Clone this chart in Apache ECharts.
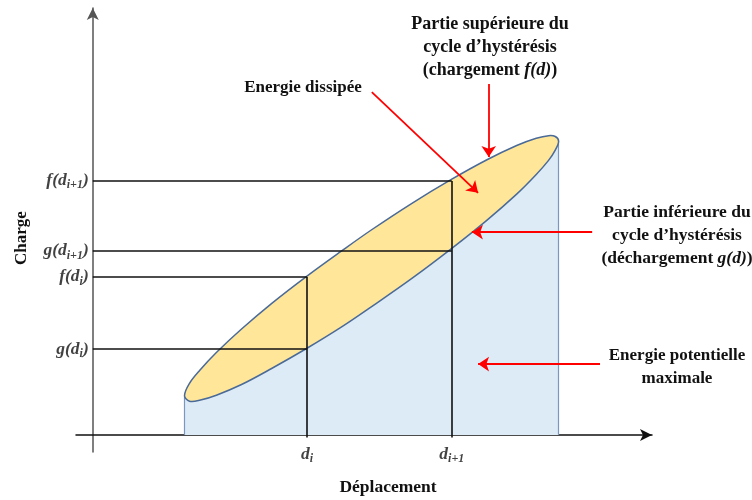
<!DOCTYPE html>
<html>
<head>
<meta charset="utf-8">
<script src="https://cdn.jsdelivr.net/npm/echarts@6/dist/echarts.min.js"></script>
<style>html,body{margin:0;padding:0;background:#fff}#c{width:752px;height:500px}</style>
</head>
<body>
<div id="c"></div>
<script>
// ---- data (displacement / charge units) ----
const curveX = [1.64, 1.73, 1.91, 2.21, 2.66, 3.19, 3.83, 4.45, 4.98, 5.70, 6.42, 7.04, 7.58, 7.93, 8.15, 8.27, 8.33];
const upperF = [0.92, 1.21, 1.51, 1.93, 2.48, 3.07, 3.72, 4.31, 4.80, 5.42, 5.99, 6.44, 6.78, 6.95, 7.01, 6.99, 6.88];
const lowerG = [0.92, 0.79, 0.81, 0.93, 1.18, 1.55, 2.03, 2.53, 3.00, 3.66, 4.37, 5.02, 5.64, 6.10, 6.43, 6.67, 6.88];
const dValues = [3.83, 6.42];
const fValues = [3.70, 5.95];
const gValues = [2.01, 4.31];
const dLabels = ['{b|d}{s|i}', '{b|d}{s|i+1}'];
const fLabels = ['{b|f(d}{s|i}{b|)}', '{b|f(d}{s|i+1}{b|)}'];
const gLabels = ['{b|g(d}{s|i}{b|)}', '{b|g(d}{s|i+1}{b|)}'];
const arrowFrom = [[4.99, 8.03], [7.08, 8.22], [8.93, 4.75], [9.07, 1.66]];
const arrowTo   = [[6.89, 5.67], [7.08, 6.51], [6.78, 4.75], [6.89, 1.66]];

const SERIF = '"Liberation Serif", "DejaVu Serif", serif';
const richTick = {
  b: {fontFamily: SERIF, fontWeight: 'bold', fontStyle: 'italic', fontSize: 17.5, color: '#111'},
  s: {fontFamily: SERIF, fontWeight: 'bold', fontStyle: 'italic', fontSize: 12, color: '#111', padding: [9, 0, 0, 0]}
};

// build shapes from arrays
const ellipsePts = [];
for (let i = 0; i < curveX.length; i++) ellipsePts.push([curveX[i], upperF[i]]);
for (let i = curveX.length - 2; i >= 1; i--) ellipsePts.push([curveX[i], lowerG[i]]);
const bluePts = [[curveX[0], 0]];
for (let i = 0; i < curveX.length; i++) bluePts.push([curveX[i], lowerG[i]]);
bluePts.push([curveX[curveX.length - 1], 0]);

const refLines = [];
for (let k = 0; k < dValues.length; k++) {
  refLines.push({coords: [[0, fValues[k]], [dValues[k], fValues[k]]]});
  refLines.push({coords: [[0, gValues[k]], [dValues[k], gValues[k]]]});
  refLines.push({coords: [[dValues[k], -0.06], [dValues[k], fValues[k]]]});
}
const blueEdges = [
  {coords: [bluePts[0], bluePts[1]]},
  {coords: [bluePts[bluePts.length - 1], bluePts[bluePts.length - 2]]}
];
const arrows = arrowFrom.map((p, i) => ({coords: [p, arrowTo[i]]}));

const yTickData = [];
for (let k = 0; k < dValues.length; k++) {
  yTickData.push({value: [0, fValues[k]], label: {formatter: fLabels[k]}});
  yTickData.push({value: [0, gValues[k]], label: {formatter: gLabels[k]}});
}
const xTickData = dValues.map((d, k) => ({value: [d, 0], label: {formatter: dLabels[k]}}));

function polyItem(pts, fill, stroke, lw, smooth) {
  return function (params, api) {
    return {
      type: 'polygon',
      shape: {points: pts.map(p => api.coord(p)), smooth: smooth},
      style: {fill: fill, stroke: stroke, lineWidth: lw}
    };
  };
}

function txt(text, x, y, size, vAlign, rich) {
  const st = {text: text, x: x, y: y, align: 'center', textAlign: 'center',
    verticalAlign: vAlign, textVerticalAlign: vAlign,
    fontFamily: SERIF, fontWeight: 'bold', fontSize: size, lineHeight: 23, fill: '#111'};
  if (rich) st.rich = {i: {fontFamily: SERIF, fontWeight: 'bold', fontStyle: 'italic', fontSize: size, lineHeight: 23, color: '#111'}};
  return {type: 'text', z: 10, style: st};
}

const chart = echarts.init(document.getElementById('c'), null, {renderer: 'canvas'});
chart.setOption({
  animation: false,
  grid: {left: 76, right: 100, top: 8, bottom: 48},
  xAxis: {
    type: 'value', min: -0.3, max: 10,
    axisLine: {onZero: true, lineStyle: {color: '#111', width: 1.5}, symbol: ['none', 'arrow'], symbolSize: [9, 12]},
    axisTick: {show: false}, axisLabel: {show: false}, splitLine: {show: false}
  },
  yAxis: {
    type: 'value', min: -0.4, max: 10,
    axisLine: {onZero: true, lineStyle: {color: '#555', width: 1.5}, symbol: ['none', 'arrow'], symbolSize: [9, 12]},
    axisTick: {show: false}, axisLabel: {show: false}, splitLine: {show: false}
  },
  series: [
    {type: 'custom', name: 'Energie potentielle maximale', data: [[0, 0]], z: 2, silent: true,
     renderItem: polyItem(bluePts, '#DDEBF7', 'rgba(0,0,0,0)', 0, 0)},
    {type: 'lines', coordinateSystem: 'cartesian2d', z: 3, silent: true, data: blueEdges,
     lineStyle: {color: '#7D96C0', width: 1.2, opacity: 1}, symbol: 'none'},
    {type: 'custom', name: 'Energie dissipée', data: [[0, 0]], z: 4, silent: true,
     renderItem: polyItem(ellipsePts, '#FFE699', '#4A6A98', 1.5, 0.35)},
    {type: 'lines', coordinateSystem: 'cartesian2d', z: 5, silent: true, data: refLines,
     lineStyle: {color: '#111', width: 1.6, opacity: 1}, symbol: 'none'},
    {type: 'lines', coordinateSystem: 'cartesian2d', z: 6, silent: true, data: arrows,
     lineStyle: {color: '#FF0000', width: 1.8, opacity: 1}, symbol: ['none', 'arrow'], symbolSize: 11},
    {type: 'scatter', symbolSize: 0, z: 7, silent: true, data: yTickData,
     label: {show: true, position: 'left', distance: 4, rich: richTick}},
    {type: 'scatter', symbolSize: 0, z: 7, silent: true, data: xTickData,
     label: {show: true, position: 'bottom', distance: 9, rich: richTick}}
  ],
  graphic: [
    txt('Partie supérieure du\ncycle d’hystérésis\n(chargement {i|f(d)})', 490, 13, 18, 'top', true),
    txt('Energie dissipée', 303, 88, 17, 'middle', false),
    txt('Partie inférieure du\ncycle d’hystérésis\n(déchargement {i|g(d)})', 677, 201, 17.5, 'top', true),
    txt('Energie potentielle\nmaximale', 677, 344, 17, 'top', false),
    {type: 'text', z: 10, x: 22, y: 238, rotation: Math.PI / 2,
     style: {text: 'Charge', x: 0, y: 0, align: 'center', textAlign: 'center', verticalAlign: 'middle', textVerticalAlign: 'middle',
       fontFamily: SERIF, fontWeight: 'bold', fontSize: 17, fill: '#111'}},
    txt('Déplacement', 388, 487, 17.5, 'middle', false)
  ]
});
</script>
</body>
</html>
